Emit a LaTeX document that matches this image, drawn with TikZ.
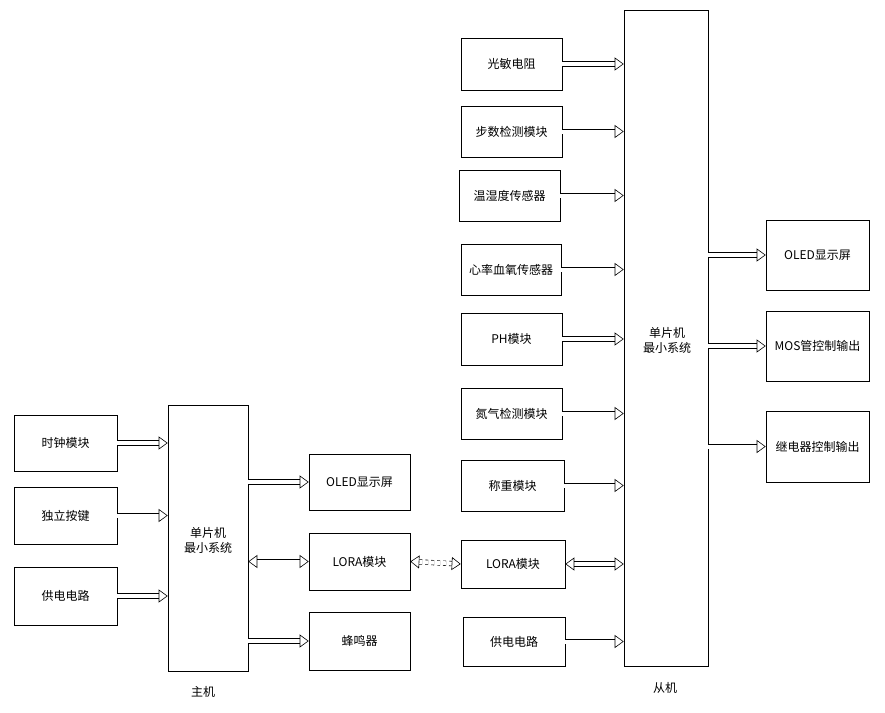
\documentclass[tikz,border=0pt]{standalone}
\usepackage{fontspec}
\newfontfamily\cjk{Noto Sans CJK SC}
\usetikzlibrary{arrows.meta}
\tikzset{
  box/.style={draw, line width=0.6pt, align=center, inner sep=1pt,
              font=\cjk\fontsize{12}{15}\selectfont},
  fat/.style={line width=0.6pt, double distance=4pt,
              -{Triangle[open,length=9pt,width=13pt]}},
  fatboth/.style={fat, {Triangle[open,length=9pt,width=13pt]}-{Triangle[open,length=9pt,width=13pt]}},
  txt/.style={font=\cjk\fontsize{12}{15}\selectfont, align=center}
}
\begin{document}
\begin{tikzpicture}[x=1pt,y=-1pt]
\useasboundingbox (0,0) rectangle (885,712);
% main unit
\node (master) [box, minimum width=80, minimum height=266] at (208,538) {};
\node [txt] at (208,540) {单片机\\最小系统};
\node [txt] at (203,692) {主机};
\node (clock) [box, minimum width=103, minimum height=56] at (65.5,443) {时钟模块};
\node (keys) [box, minimum width=103, minimum height=57] at (65.5,515.5) {独立按键};
\node (pwrA) [box, minimum width=103, minimum height=58] at (65.5,596) {供电电路};
\node (oledA) [box, minimum width=101, minimum height=56] at (359.5,482) {OLED显示屏};
\node (loraA) [box, minimum width=101, minimum height=57] at (359.5,561.5) {LORA模块};
\node (buzz) [box, minimum width=101, minimum height=58] at (359.5,641) {蜂鸣器};
% slave unit
\node (slave) [box, minimum width=84, minimum height=656] at (666,338) {};
\node [txt] at (667,340) {单片机\\最小系统};
\node [txt] at (665,688) {从机};
\node (light) [box, minimum width=101, minimum height=52] at (511.5,64) {光敏电阻};
\node (step) [box, minimum width=101, minimum height=51] at (511.5,131.5) {步数检测模块};
\node (humi) [box, minimum width=101, minimum height=51] at (509.5,195.5) {温湿度传感器};
\node (heart) [box, minimum width=100, minimum height=51] at (511,269.5) {心率血氧传感器};
\node (ph) [box, minimum width=101, minimum height=52] at (511.5,339) {PH模块};
\node (gas) [box, minimum width=101, minimum height=51] at (511.5,413.5) {氮气检测模块};
\node (scale) [box, minimum width=103, minimum height=51] at (512.5,485.5) {称重模块};
\node (loraB) [box, minimum width=104, minimum height=48] at (513,564) {LORA模块};
\node (pwrB) [box, minimum width=102, minimum height=49] at (514,641.5) {供电电路};
\node (oledB) [box, minimum width=103, minimum height=70] at (817.5,255) {OLED显示屏};
\node (mos) [box, minimum width=103, minimum height=70] at (817.5,346) {MOS管控制输出};
\node (relay) [box, minimum width=103, minimum height=71] at (817.5,446.5) {继电器控制输出};
% connectors
\foreach \n in {clock,keys,pwrA}
  \draw [fat] (\n.east) -- (\n.east -| master.west);
\foreach \n in {oledA,buzz}
  \draw [fat] (\n.west -| master.east) -- (\n.west);
\draw [fatboth] (loraA.west -| master.east) -- (loraA.west);
\foreach \n in {light,step,humi,heart,ph,gas,scale,pwrB}
  \draw [fat] (\n.east) -- (\n.east -| slave.west);
\draw [fatboth] (loraB.east) -- (loraB.east -| slave.west);
\foreach \n in {oledB,mos,relay}
  \draw [fat] (\n.west -| slave.east) -- (\n.west);
\draw [fatboth, dashed] (loraA.east) -- (loraB.west);
\end{tikzpicture}
\end{document}
